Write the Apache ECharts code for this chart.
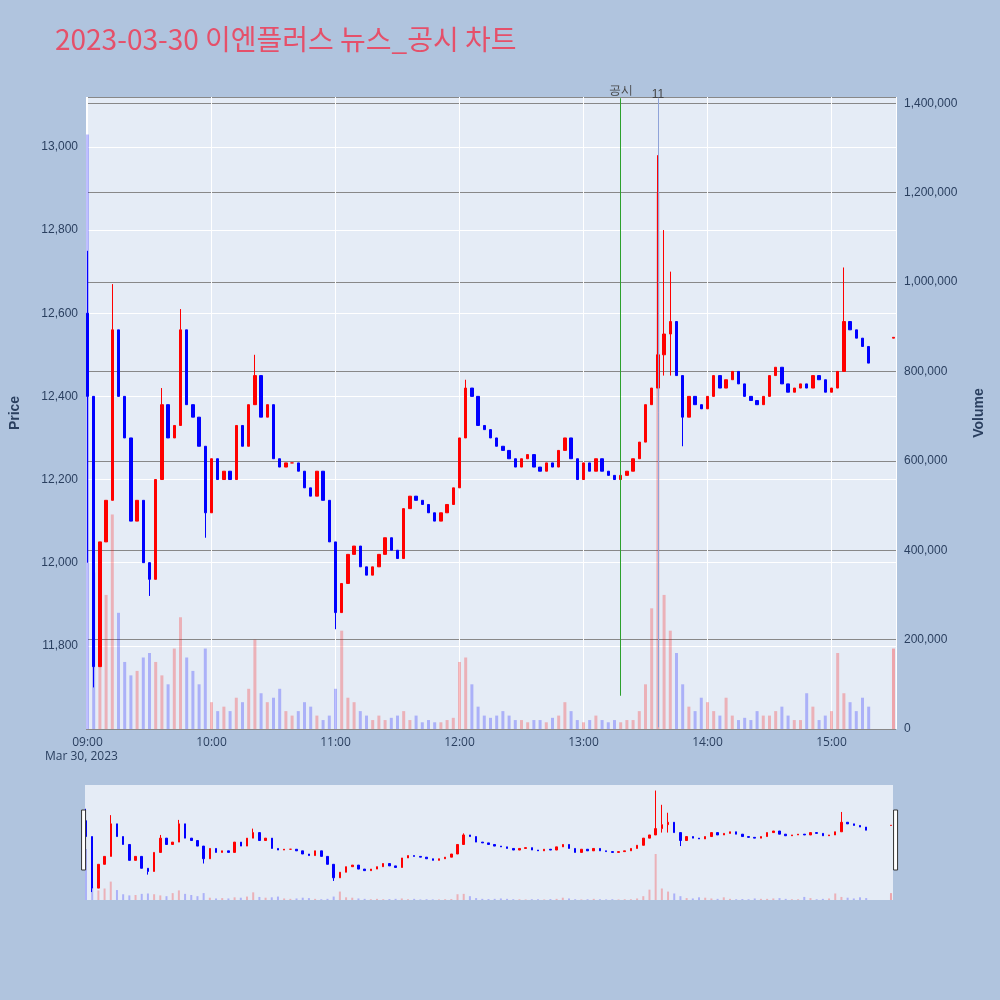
<!DOCTYPE html>
<html>
<head>
<meta charset="utf-8">
<script src="https://cdn.jsdelivr.net/npm/echarts@6/dist/echarts.min.js"></script>
<style>html,body{margin:0;padding:0;background:#b0c4de}#main{width:1000px;height:1000px}</style>
</head>
<body>
<div id="main"></div>
<script>
// 참고: 원본은 1분 봉 차트로 보이지만 여기서는 그림에서 눈으로 읽은 3분 봉 근사치를 씀
// 거래량도 그림의 막대 높이를 읽은 값이라 실제 3분 합계 거래량이 아님
// 3분 봉 종가 (09:00 부터)
const closes = [12400,11750,12050,12150,12560,12400,12300,12100,12150,12000,
  11960,12200,12380,12300,12330,12560,12380,12350,12280,12120,
  12250,12200,12220,12200,12330,12280,12380,12450,12350,12380,
  12250,12230,12240,12240,12220,12180,12160,12220,12150,12050,
  11880,11950,12020,12040,11990,11970,11990,12020,12060,12030,
  12010,12130,12160,12150,12140,12120,12100,12120,12140,12180,
  12300,12420,12400,12330,12320,12300,12280,12270,12250,12230,
  12250,12260,12230,12220,12240,12230,12270,12300,12250,12200,
  12240,12220,12250,12220,12210,12200,12210,12220,12250,12290,
  12380,12420,12500,12550,12580,12450,12350,12400,12380,12370,
  12400,12450,12420,12440,12460,12430,12400,12390,12380,12400,
  12450,12470,12430,12410,12420,12430,12420,12450,12440,12410,
  12420,12460,12580,12560,12540,12520,12480]
// 꼬리 (index: [저가, 고가])
const wicks = {0:[12000,12750],1:[11700,12230],4:[12150,12670],10:[11920,12000],12:[12200,12420],
  15:[12330,12610],19:[12060,12280],27:[12380,12500],40:[11840,12050],61:[12300,12440],
  92:[12420,12980],93:[12450,12800],94:[12450,12700],96:[12280,12400],122:[12460,12710]}
const volumes = [1330000,350000,250000,300000,480000,260000,150000,120000,130000,160000,
  170000,150000,120000,100000,180000,250000,160000,130000,100000,180000,
  60000,40000,50000,40000,70000,60000,90000,200000,80000,60000,
  70000,90000,40000,30000,40000,60000,50000,30000,20000,30000,
  90000,220000,70000,60000,40000,30000,20000,30000,20000,25000,
  30000,40000,20000,30000,15000,20000,15000,15000,20000,25000,
  150000,160000,100000,50000,30000,25000,30000,40000,30000,20000,
  20000,15000,20000,20000,15000,25000,30000,60000,40000,20000,
  15000,20000,30000,20000,15000,20000,15000,20000,20000,40000,
  100000,270000,1200000,300000,220000,170000,100000,50000,40000,70000,
  60000,40000,30000,70000,30000,20000,25000,20000,40000,30000,
  30000,40000,50000,30000,20000,20000,80000,50000,20000,30000,
  40000,170000,80000,60000,40000,70000,50000]
const closeAuction = {time:'2023-03-30 15:30', price:12540, volume:180000}
const newsTimes = [{time:'2023-03-30 13:18', label:'공시', color:'#2ca02c'},
                   {time:'2023-03-30 13:36', label:'11', color:'#8fa3d9'}]

const base = new Date('2023-03-30T09:00:00').getTime()
const candle = [], vol = []
closes.forEach((c, i) => {
  const t = base + i * 180000
  const o = i === 0 ? 12600 : closes[i - 1]
  const w = wicks[i] || [Math.min(o, c), Math.max(o, c)]
  candle.push([t, o, c, Math.min(o, c, w[0]), Math.max(o, c, w[1])])
  vol.push({value: [t, volumes[i]], itemStyle: {color: c >= o ? 'rgba(255,0,0,0.25)' : 'rgba(0,0,255,0.25)'}})
})
const ta = new Date(closeAuction.time.replace(' ', 'T')).getTime()
candle.push([ta, closeAuction.price, closeAuction.price + 2, closeAuction.price, closeAuction.price + 2])
vol.push({value: [ta, closeAuction.volume], itemStyle: {color: 'rgba(255,0,0,0.3)'}})

const xmin = base, xmax = new Date('2023-03-30T15:30:00').getTime() + 30000
let myChart = echarts.init(document.getElementById('main'))
const candleStyle = {color: '#ff0000', color0: '#0000ff', borderColor: '#ff0000', borderColor0: '#0000ff', borderWidth: 1}
let option = {
  backgroundColor: '#b0c4de',
  animation: false,
  title: {text: '2023-03-30 이엔플러스 뉴스_공시 차트', left: 50, top: 20,
    textStyle: {fontSize: 28, fontWeight: 'normal', color: '#e5506a', fontFamily: 'Noto Sans CJK KR'}},
  graphic: [{type: 'text', left: 45, top: 751, style: {text: 'Mar 30, 2023', fontSize: 12, fill: '#2a3f5f', fontFamily: 'Open Sans'}}],
  grid: [
    {left: 82, right: 104, top: 97, bottom: 271, show: true, backgroundColor: '#e5ecf6', borderWidth: 0},
    {left: 85, right: 107, top: 785, height: 115, show: true, backgroundColor: '#e5ecf6', borderWidth: 0}
  ],
  xAxis: [
    {type: 'time', gridIndex: 0, min: xmin, max: xmax, interval: 3600000,
      axisLine: {show: false}, axisTick: {show: false}, splitLine: {show: true, lineStyle: {color: '#fff'}},
      axisLabel: {formatter: '{HH}:{mm}', color: '#2a3f5f', fontSize: 12, fontFamily: 'Open Sans'}},
    {type: 'time', gridIndex: 1, min: xmin, max: xmax, show: false}
  ],
  yAxis: [
    {type: 'value', gridIndex: 0, min: 11600, max: 13120, interval: 200, name: 'Price',
      nameLocation: 'middle', nameGap: 64, nameTextStyle: {fontSize: 14, fontWeight: 'bold', color: '#2a3f5f'},
      axisLabel: {showMinLabel: false, showMaxLabel: false, color: '#2a3f5f', fontSize: 12, formatter: v => v.toLocaleString('en-US')},
      splitLine: {lineStyle: {color: '#fff', width: 1}}},
    {type: 'value', gridIndex: 0, min: 0, max: 1414000, interval: 200000, name: 'Volume', position: 'right',
      nameLocation: 'middle', nameGap: 76, nameTextStyle: {fontSize: 14, fontWeight: 'bold', color: '#2a3f5f'},
      axisLabel: {showMaxLabel: false, color: '#2a3f5f', fontSize: 12, formatter: v => v.toLocaleString('en-US')},
      splitLine: {show: true, lineStyle: {color: '#888', width: 1}}},
    {type: 'value', gridIndex: 1, min: 11600, max: 13050, show: false},
    {type: 'value', gridIndex: 1, min: 0, max: 3000000, show: false}
  ],
  dataZoom: [{type: 'slider', xAxisIndex: [0, 1], left: 82, right: 104, top: 810, height: 60,
    showDataShadow: false, showDetail: false, backgroundColor: 'rgba(0,0,0,0)', borderColor: 'transparent',
    fillerColor: 'rgba(0,0,0,0)', brushSelect: false, moveHandleSize: 0,
    handleIcon: 'path://M0,0 L4,0 L4,60 L0,60 Z', handleSize: '100%',
    handleStyle: {color: '#fff', borderColor: '#333', borderWidth: 1}}],
  series: [
    {type: 'bar', xAxisIndex: 0, yAxisIndex: 1, barWidth: 3, data: vol, z: 1},
    {type: 'candlestick', xAxisIndex: 0, yAxisIndex: 0, barWidth: 3, itemStyle: candleStyle, data: candle, z: 3,
      markLine: {symbol: 'none', silent: true, label: {position: 'end', color: '#444', fontSize: 12},
        data: newsTimes.map((n, k) => [
          {coord: [new Date(n.time.replace(' ', 'T')).getTime(), k === 0 ? 11680 : 11604], name: n.label,
            lineStyle: {color: n.color, width: 1, type: 'solid'}, label: {formatter: n.label, distance: k === 0 ? 2 : -2}},
          {coord: [new Date(n.time.replace(' ', 'T')).getTime(), 13117]}])}},
    {type: 'bar', xAxisIndex: 1, yAxisIndex: 3, barWidth: 2, data: vol, z: 1},
    {type: 'candlestick', xAxisIndex: 1, yAxisIndex: 2, barWidth: 2, itemStyle: candleStyle, data: candle, z: 3}
  ]
}
myChart.setOption(option)
</script>
</body>
</html>
